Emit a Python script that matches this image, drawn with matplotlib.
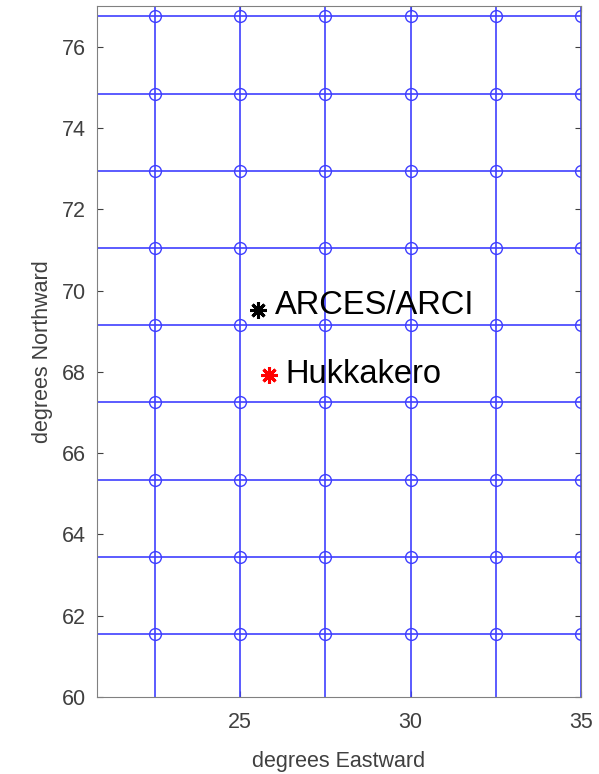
import matplotlib.pyplot as plt

plt.rcParams['font.family'] = ['Liberation Sans', 'DejaVu Sans']

# grid of meridians / parallels
lon_lines = [22.5, 25.0, 27.5, 30.0, 32.5, 35.0]
lat_lines = [61.55, 63.45, 65.35, 67.25, 69.15, 71.05, 72.95, 74.85, 76.75]

# stations
station_names = ['ARCES/ARCI', 'Hukkakero']
station_lon = [25.53, 25.84]
station_lat = [69.53, 67.93]
station_colors = ['black', 'red']

x_left, x_right = 20.8, 35.0
y_bottom, y_top = 60.0, 77.0

fig = plt.figure(figsize=(5.99, 7.74), dpi=100)
ax = fig.add_axes([0.162, 0.0995, 0.808, 0.8925])

line_col = '#3f3fff'
for lat in lat_lines:
    ax.plot([x_left, x_right], [lat, lat], '-', color=line_col, linewidth=1.2)
for lon in lon_lines:
    ax.plot([lon, lon], [y_bottom, y_top], '-', color=line_col, linewidth=1.2)
    ax.plot([lon] * len(lat_lines), lat_lines, 'o', markersize=8.5,
            markerfacecolor='none', markeredgecolor=line_col, markeredgewidth=1.0)

# station markers and labels
offsets = [0.1, 0.0]
for name, lon, lat, col, dy in zip(station_names, station_lon, station_lat, station_colors, offsets):
    ax.plot(lon, lat, marker=(8, 2, 0), markersize=12, color=col,
            markeredgewidth=2.2, linestyle='none')
    ax.text(lon + 0.5, lat + dy, name, fontsize=23.5, va='center', ha='left', color='black')

ax.set_xlim(x_left, x_right)
ax.set_ylim(y_bottom, y_top)
ax.set_xticks([25, 30, 35])
ax.set_yticks(range(60, 77, 2))
ax.tick_params(direction='in', top=True, right=True, labelsize=15.5,
               colors='#404040', length=4)
ax.tick_params(axis='x', pad=11)
ax.tick_params(axis='y', pad=8)
for s in ax.spines.values():
    s.set_color('#808080')
ax.set_xlabel('degrees Eastward', fontsize=15.5, color='#404040', labelpad=13)
ax.set_ylabel('degrees Northward', fontsize=15.5, color='#404040', labelpad=6)

fig.savefig('out.png', dpi=100)
